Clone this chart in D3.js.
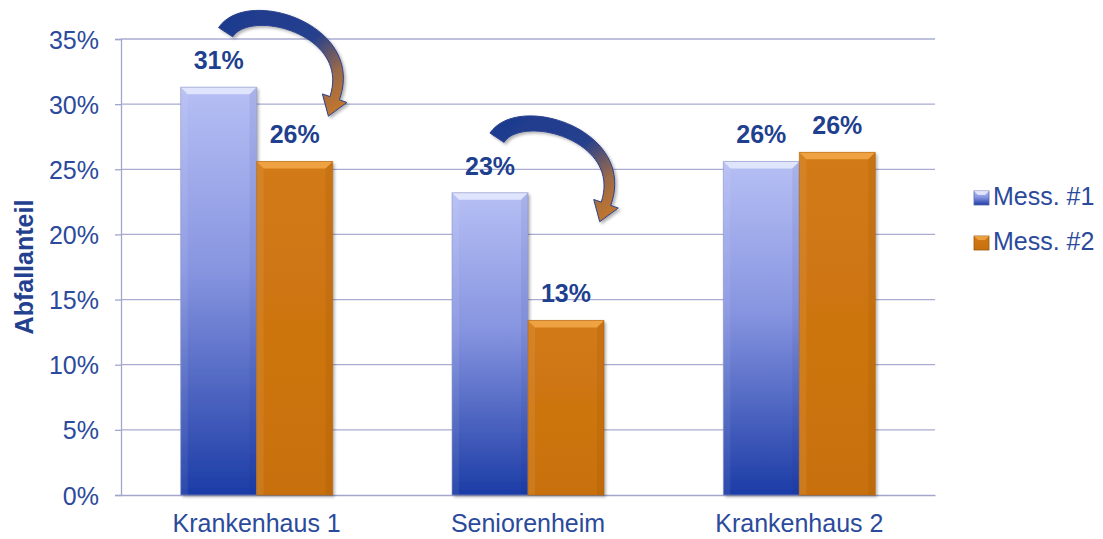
<!DOCTYPE html>
<html>
<head>
<meta charset="utf-8">
<script src="https://cdn.jsdelivr.net/npm/d3@7"></script>
<style>
  body { margin: 0; background: #fff; }
  svg { display: block; font-family: "Liberation Sans", Arial, sans-serif; }
</style>
</head>
<body>
<svg id="chart"></svg>
<script>
var width = 1103, height = 539;

// data
var categories = ["Krankenhaus 1", "Seniorenheim", "Krankenhaus 2"];
var seriesNames = ["Mess. #1", "Mess. #2"];
var mess1 = [0.313, 0.232, 0.256];
var mess2 = [0.256, 0.134, 0.263];
var yTicks = [0, 0.05, 0.10, 0.15, 0.20, 0.25, 0.30, 0.35];
var arrowCategories = ["Krankenhaus 1", "Seniorenheim"];

var plotLeft = 121, plotRight = 935, plotTop = 39, plotBottom = 495;
var fmt = d3.format(".0%");

var svg = d3.select("#chart")
    .attr("width", width)
    .attr("height", height);

var defs = svg.append("defs");

// blue bar gradient
var gBlue = defs.append("linearGradient").attr("id", "gBlue")
    .attr("x1", 0).attr("y1", 0).attr("x2", 0).attr("y2", 1);
gBlue.append("stop").attr("offset", "0%").attr("stop-color", "#b6bff4");
gBlue.append("stop").attr("offset", "45%").attr("stop-color", "#8795e0");
gBlue.append("stop").attr("offset", "100%").attr("stop-color", "#1c3ca6");

var gOrange = defs.append("linearGradient").attr("id", "gOrange")
    .attr("x1", 0).attr("y1", 0).attr("x2", 0).attr("y2", 1);
gOrange.append("stop").attr("offset", "0%").attr("stop-color", "#d27a14");
gOrange.append("stop").attr("offset", "100%").attr("stop-color", "#c8700e");

var gArrow = defs.append("linearGradient").attr("id", "gArrow")
    .attr("x1", 0).attr("y1", 0).attr("x2", 1).attr("y2", 1);
gArrow.append("stop").attr("offset", "0%").attr("stop-color", "#1d3a8f");
gArrow.append("stop").attr("offset", "50%").attr("stop-color", "#25408c");
gArrow.append("stop").attr("offset", "75%").attr("stop-color", "#9a6a4a");
gArrow.append("stop").attr("offset", "100%").attr("stop-color", "#d07a22");

var shadow = defs.append("filter").attr("id", "shadow")
    .attr("x", "-20%").attr("y", "-20%").attr("width", "140%").attr("height", "140%");
shadow.append("feDropShadow").attr("dx", 2).attr("dy", 2)
    .attr("stdDeviation", 1.5).attr("flood-color", "#000").attr("flood-opacity", 0.3);

// scales
var x = d3.scaleBand().domain(categories).range([plotLeft, plotRight])
    .paddingInner(0.44).paddingOuter(0.22);
var xSub = d3.scaleBand().domain(seriesNames).range([0, x.bandwidth()]);
var y = d3.scaleLinear().domain([0, 0.35]).range([plotBottom, plotTop]);

// gridlines
svg.append("g")
  .selectAll("line")
  .data(yTicks.slice(1))
  .enter()
  .append("line")
    .attr("x1", plotLeft).attr("x2", plotRight)
    .attr("y1", function(d){ return y(d); })
    .attr("y2", function(d){ return y(d); })
    .attr("stroke", "#a9acd0")
    .attr("stroke-width", 1.3);

// y axis
var yAxis = svg.append("g")
    .attr("transform", "translate(" + plotLeft + ",0)")
    .call(d3.axisLeft(y).tickValues(yTicks).tickFormat(fmt).tickSize(6).tickPadding(16));
yAxis.select(".domain").attr("stroke", "#a3a6cc").attr("stroke-width", 1.3);
yAxis.selectAll(".tick line").attr("stroke", "#a3a6cc").attr("stroke-width", 1.3);
yAxis.selectAll(".tick text")
    .attr("fill", "#2b4a9c")
    .style("font-size", "25px")
    .attr("dy", "0.36em")
    .attr("font-family", "Liberation Sans, Arial, sans-serif");

// x axis
var xAxis = svg.append("g")
    .attr("transform", "translate(0," + plotBottom + ")")
    .call(d3.axisBottom(x).tickSize(0).tickPadding(19));
xAxis.select(".domain").attr("stroke", "#a3a6cc").attr("stroke-width", 1.3);
xAxis.selectAll(".tick text")
    .attr("fill", "#2b4a9c")
    .style("font-size", "25px")
    .attr("font-family", "Liberation Sans, Arial, sans-serif");

// axis title
svg.append("text")
    .attr("transform", "translate(33,267) rotate(-90)")
    .attr("text-anchor", "middle")
    .attr("fill", "#23418f")
    .style("font-size", "25px")
    .style("font-weight", "bold")
    .text("Abfallanteil");

// bars
var rows = [];
categories.forEach(function(c, i){
  rows.push({cat: c, series: seriesNames[0], value: mess1[i]});
  rows.push({cat: c, series: seriesNames[1], value: mess2[i]});
});

var barG = svg.append("g").selectAll("g.bar")
  .data(rows)
  .enter()
  .append("g")
    .attr("class", "bar");

barG.each(function(d){
  var g = d3.select(this);
  var bx = x(d.cat) + xSub(d.series);
  var bw = xSub.bandwidth();
  var by = y(d.value);
  var bh = plotBottom - by;
  var blue = d.series === seriesNames[0];
  var b = 7;

  g.append("rect")
      .attr("x", bx).attr("y", by)
      .attr("width", bw).attr("height", bh)
      .attr("fill", blue ? "url(#gBlue)" : "url(#gOrange)")
      .attr("filter", "url(#shadow)");

  // bevel: top lighter, sides shaded
  g.append("polygon")
      .attr("points", [[bx, by], [bx + bw, by], [bx + bw - b, by + b], [bx + b, by + b]].join(" "))
      .attr("fill", blue ? "#eef1ff" : "#f3a94a")
      .attr("opacity", blue ? 0.75 : 0.85);
  g.append("polygon")
      .attr("points", [[bx, by], [bx + b, by + b], [bx + b, by + bh], [bx, by + bh]].join(" "))
      .attr("fill", "#ffffff")
      .attr("opacity", 0.07);
  g.append("polygon")
      .attr("points", [[bx + bw, by], [bx + bw - b, by + b], [bx + bw - b, by + bh], [bx + bw, by + bh]].join(" "))
      .attr("fill", blue ? "#0d1f70" : "#7a3f00")
      .attr("opacity", blue ? 0.07 : 0.12);
  g.append("rect")
      .attr("x", bx).attr("y", by)
      .attr("width", bw).attr("height", bh)
      .attr("fill", "none")
      .attr("stroke", blue ? "#8a93c8" : "#b0650d")
      .attr("stroke-opacity", 0.6)
      .attr("stroke-width", 1);

  g.append("text")
      .attr("x", bx + bw / 2)
      .attr("y", by - 18)
      .attr("text-anchor", "middle")
      .attr("fill", "#1f3f8f")
      .style("font-size", "25px")
      .style("font-weight", "bold")
      .text(fmt(d.value));
});

// curved arrows from Mess. #1 to Mess. #2
function bez(p0, p1, p2, p3, t){
  var u = 1 - t;
  return [
    u*u*u*p0[0] + 3*u*u*t*p1[0] + 3*u*t*t*p2[0] + t*t*t*p3[0],
    u*u*u*p0[1] + 3*u*u*t*p1[1] + 3*u*t*t*p2[1] + t*t*t*p3[1]
  ];
}
function bezD(p0, p1, p2, p3, t){
  var u = 1 - t;
  return [
    3*u*u*(p1[0]-p0[0]) + 6*u*t*(p2[0]-p1[0]) + 3*t*t*(p3[0]-p2[0]),
    3*u*u*(p1[1]-p0[1]) + 6*u*t*(p2[1]-p1[1]) + 3*t*t*(p3[1]-p2[1])
  ];
}

function arrowPoints(xb, yb, xo){
  var p0 = [xb + 7, yb - 55], p1 = [xb + 30, yb - 90],
      p2 = [xo + 64, yb - 58], p3 = [xo + 40, yb + 11];
  var n = 40, L = [], R = [];
  for (var i = 0; i <= n; i++) {
    var t = i / n;
    var p = bez(p0, p1, p2, p3, t);
    var d = bezD(p0, p1, p2, p3, t);
    var len = Math.sqrt(d[0]*d[0] + d[1]*d[1]);
    var nx = -d[1] / len, ny = d[0] / len;
    var w = (17 - 7 * t) / 2;
    L.push([p[0] + nx*w, p[1] + ny*w]);
    R.push([p[0] - nx*w, p[1] - ny*w]);
  }
  var de = bezD(p0, p1, p2, p3, 1);
  var le = Math.sqrt(de[0]*de[0] + de[1]*de[1]);
  var ux = de[0] / le, uy = de[1] / le;
  var nx2 = -uy, ny2 = ux;
  var head = [
    [p3[0] + nx2*13, p3[1] + ny2*13],
    [p3[0] + ux*19, p3[1] + uy*19],
    [p3[0] - nx2*13, p3[1] - ny2*13]
  ];
  return L.concat(head).concat(R.reverse());
}

svg.append("g")
  .selectAll("path")
  .data(arrowCategories)
  .enter()
  .append("path")
    .attr("d", function(c){
      var i = categories.indexOf(c);
      var xb = x(c) + xSub(seriesNames[0]) + xSub.bandwidth() / 2;
      var xo = x(c) + xSub(seriesNames[1]) + xSub.bandwidth() / 2;
      return d3.line()(arrowPoints(xb, y(mess1[i]), xo)) + "Z";
    })
    .attr("fill", "url(#gArrow)")
    .attr("stroke", "#2a418e")
    .attr("stroke-width", 1)
    .attr("filter", "url(#shadow)");

// legend
var legend = svg.append("g").selectAll("g")
  .data(seriesNames)
  .enter()
  .append("g")
    .attr("transform", function(d, i){ return "translate(974," + (191 + i * 45) + ")"; });

legend.append("rect")
    .attr("width", 15).attr("height", 14)
    .attr("fill", function(d, i){ return i === 0 ? "url(#gBlue)" : "url(#gOrange)"; })
    .attr("stroke", function(d, i){ return i === 0 ? "#5a66a8" : "#9a5a10"; })
    .attr("stroke-width", 0.8);
legend.append("polygon")
    .attr("points", "0,0 15,0 11,4 4,4")
    .attr("fill", function(d, i){ return i === 0 ? "#eef1ff" : "#f3a94a"; })
    .attr("opacity", 0.8);

legend.append("text")
    .attr("x", 19)
    .attr("y", 14)
    .attr("fill", "#2b4a9c")
    .style("font-size", "25px")
    .text(function(d){ return d; });
</script>
</body>
</html>
